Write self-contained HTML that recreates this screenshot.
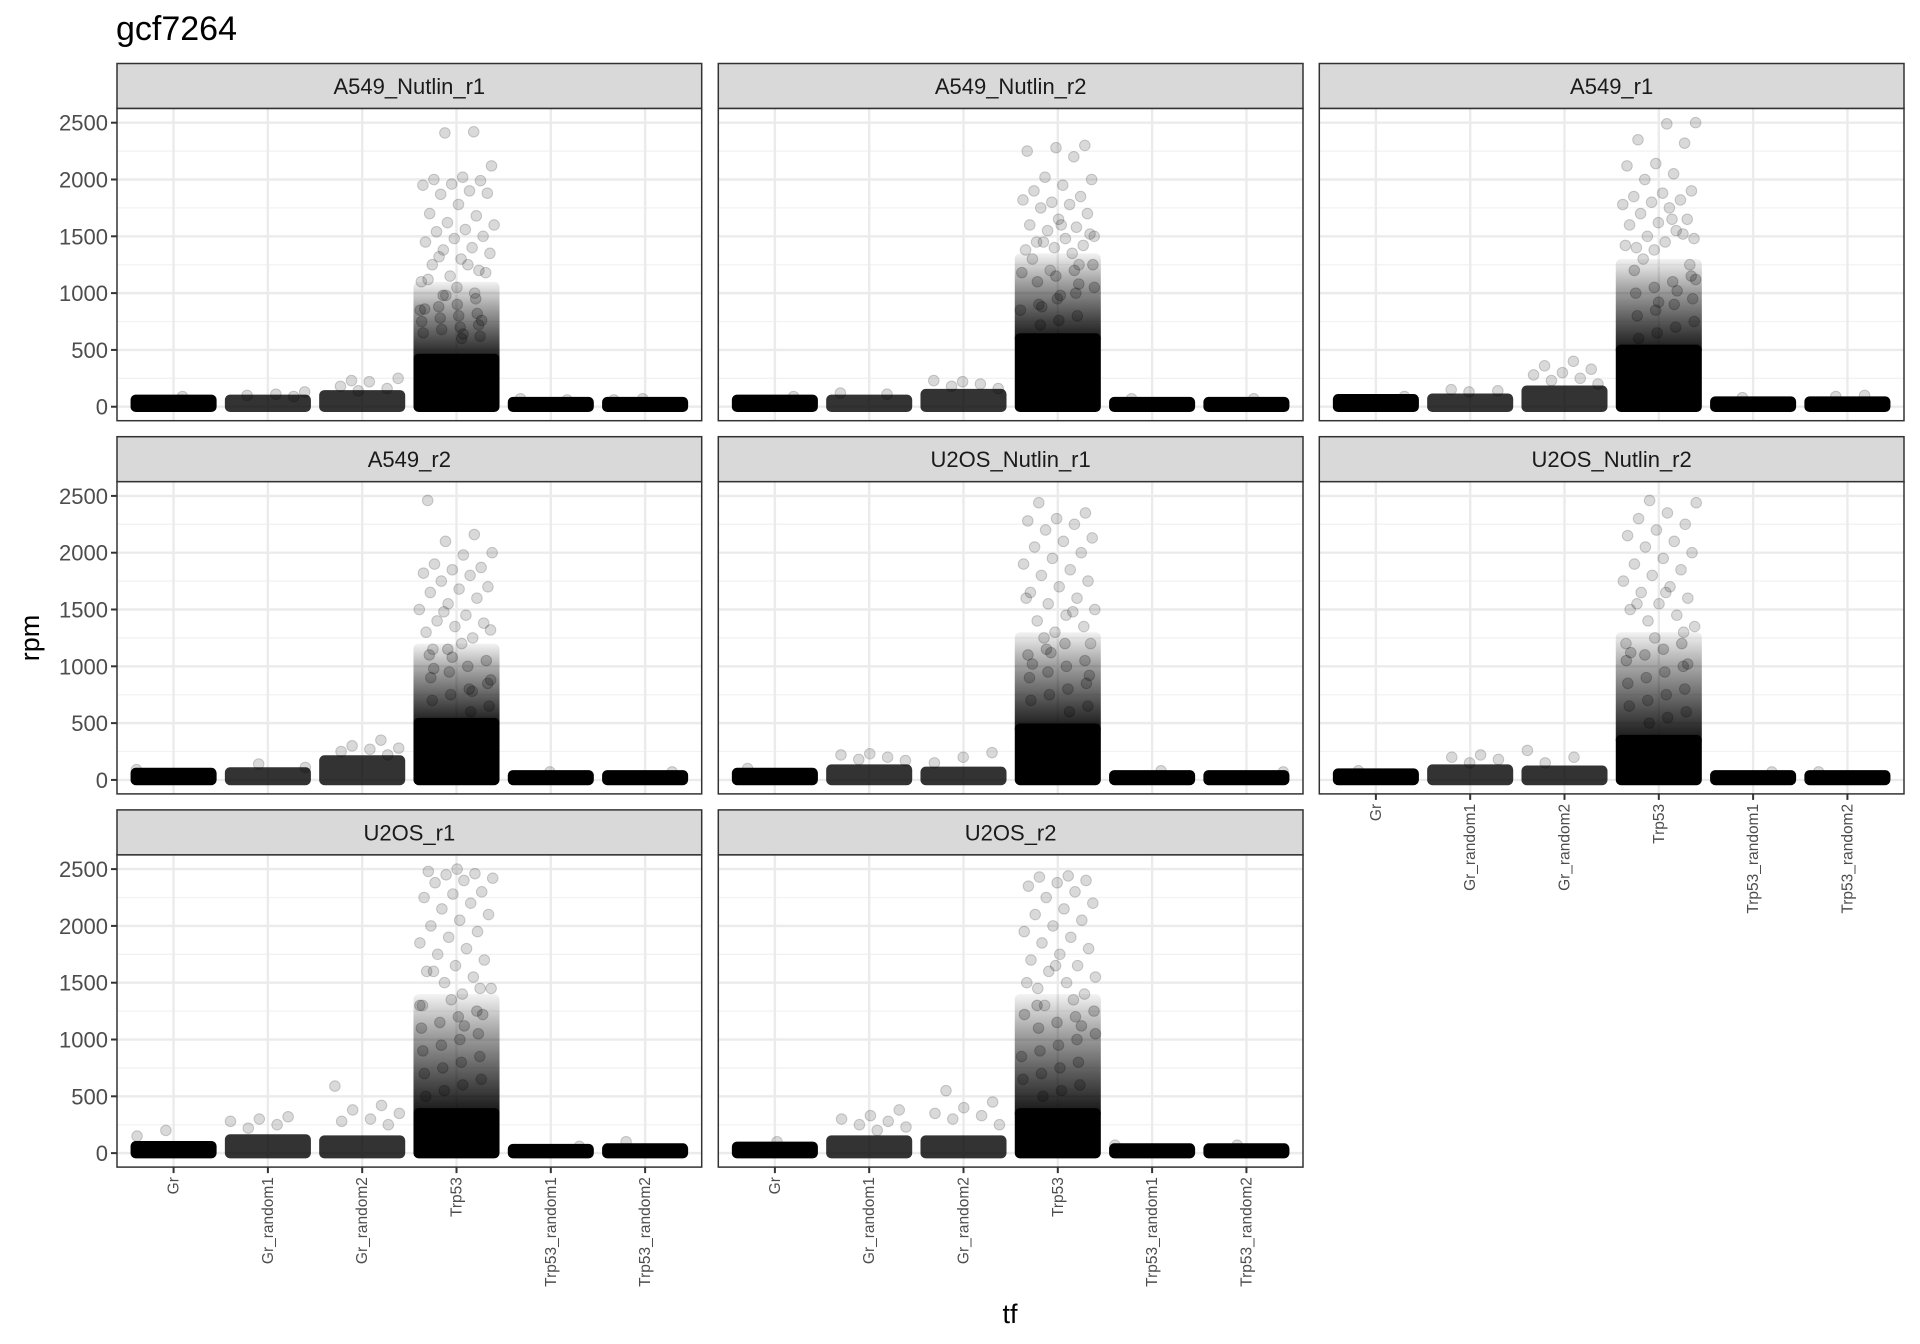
<!DOCTYPE html>
<html><head><meta charset="utf-8"><title>gcf7264</title>
<style>
html,body{margin:0;padding:0;background:#fff;}
svg{display:block;font-family:"Liberation Sans",sans-serif;}
</style></head>
<body>
<svg id="chart" width="1920" height="1344" viewBox="0 0 1920 1344" xmlns="http://www.w3.org/2000/svg">
<text x="116" y="40" font-size="34" fill="#000">gcf7264</text>
<text x="0" y="0" font-size="27" fill="#000" text-anchor="middle" transform="translate(39,638) rotate(-90)">rpm</text>
<text x="1010" y="1323" font-size="27" fill="#000" text-anchor="middle">tf</text>
</svg>
<script>
const categories = ["Gr","Gr_random1","Gr_random2","Trp53","Trp53_random1","Trp53_random2"];
const panels = ["A549_Nutlin_r1","A549_Nutlin_r2","A549_r1","A549_r2","U2OS_Nutlin_r1","U2OS_Nutlin_r2","U2OS_r1","U2OS_r2"];
const yTicks = [0,500,1000,1500,2000,2500];
const solidTop = [
 [60,60,100,420,40,40],
 [60,60,110,600,40,40],
 [65,70,140,500,45,45],
 [60,65,170,500,40,40],
 [60,90,70,450,40,40],
 [55,90,80,350,40,40],
 [60,120,110,350,35,40],
 [55,110,110,350,40,40]
];
const denseTop = [1100,1350,1300,1200,1300,1300,1400,1400];
const gr1Out = [[130,110,100,90],[120,110],[150,140,130],[140,110],[230,220,200,180,170],[220,200,180,150],[320,300,280,250,220],[380,330,300,280,250,230,200]];
const gr2Out = [[230,250,220,180,160,140],[220,230,200,180,160],[400,360,330,300,280,250,230,200],[350,300,280,270,250,220],[240,200,150],[260,200,150],[590,420,380,350,300,280,250],[550,450,400,350,330,300,250]];
const grOut = [[90],[90],[90],[90],[100],[80],[200,150],[100]];
const t1Out = [[70,60],[70],[80],[70],[80],[70],[60],[70]];
const t2Out = [[70,60],[70],[100,90],[70],[70],[70],[100],[70]];
const trpOut = [
 [2420,2410,2120,2020,2000,1990,1960,1950,1900,1870,1880,1780,1700,1680,1620,1600,1560,1540,1500,1480,1450,1400,1380,1350,1300,1250,1200,1150,1100,1250,1320,1180,1050,1120,1000,980],
 [2300,2280,2250,2200,2020,2000,1950,1900,1850,1800,1820,1780,1750,1700,1650,1600,1580,1550,1500,1480,1450,1420,1400,1380,1350,1450,1520,1600,1300,1250,1200],
 [2500,2490,2350,2320,2140,2120,2050,2000,1900,1880,1850,1820,1800,1780,1750,1700,1650,1620,1600,1550,1500,1480,1450,1400,1520,1380,1420,1650,1300,1250],
 [2460,2160,2100,2000,1980,1900,1870,1850,1820,1800,1750,1700,1680,1650,1600,1550,1500,1450,1400,1380,1350,1300,1250,1480,1320,1200,1150],
 [2440,2350,2300,2280,2250,2200,2130,2100,2050,2000,1950,1900,1850,1800,1750,1700,1650,1600,1550,1500,1450,1400,1350,1300,1600,1480,1250,1200],
 [2460,2440,2350,2300,2250,2200,2150,2100,2050,2000,1950,1900,1850,1800,1750,1700,1650,1600,1550,1500,1450,1400,1350,1650,1550,1300,1250,1200],
 [2500,2480,2460,2450,2420,2400,2380,2300,2280,2250,2200,2150,2100,2050,2000,1950,1900,1850,1800,1750,1700,1650,1600,1550,1500,1450,1400,1600,1450,1350,1300],
 [2440,2430,2400,2380,2350,2300,2250,2200,2150,2100,2050,2000,1950,1900,1850,1800,1750,1700,1650,1600,1550,1500,1450,1400,1650,1500,1350,1300]
];
const trpMid = [
 [950,900,880,850,820,800,780,750,720,700,680,650,620,600,980,860,760,640],
 [1250,1200,1150,1100,1050,1000,950,900,850,800,760,720,1180,1080,980,880],
 [1200,1150,1100,1050,1000,950,900,850,800,750,700,650,600,1120,1020,920],
 [1150,1100,1050,1000,950,900,850,800,750,700,650,600,1080,980,880,780],
 [1200,1150,1100,1050,1000,950,900,850,800,750,700,650,600,1120,1020,920],
 [1200,1150,1100,1050,1000,950,900,850,800,750,700,650,600,550,500,1120,1020],
 [1300,1250,1200,1150,1100,1050,1000,950,900,850,800,750,700,650,600,550,500,1220,1120],
 [1300,1250,1200,1150,1100,1050,1000,950,900,850,800,750,700,650,600,550,500,1220,1120]
];

const NS = "http://www.w3.org/2000/svg";
const svg = document.getElementById("chart");
const colX = [117, 718.3, 1319.3];
const PW = 584.7, STRIP = 45, PH = 312.2, ROWP = 373.2, ROW0 = 63.5;
const yMin = -123, yMax = 2625;
function mk(tag, attrs, parent){ const e = document.createElementNS(NS, tag); for (const k in attrs) e.setAttribute(k, attrs[k]); (parent||svg).appendChild(e); return e; }

const defs = mk("defs", {});
const grad = mk("linearGradient", {id:"dg", x1:"0", y1:"1", x2:"0", y2:"0"}, defs);
mk("stop", {offset:"0", "stop-color":"#000", "stop-opacity":"0.95"}, grad);
mk("stop", {offset:"0.3", "stop-color":"#000", "stop-opacity":"0.7"}, grad);
mk("stop", {offset:"0.7", "stop-color":"#000", "stop-opacity":"0.35"}, grad);
mk("stop", {offset:"1", "stop-color":"#000", "stop-opacity":"0.05"}, grad);

panels.forEach((name, p) => {
  const col = p % 3, row = Math.floor(p / 3);
  const x0 = colX[col], top = ROW0 + row * ROWP, py0 = top + STRIP, py1 = py0 + PH;
  const unit = PW / 6.2;
  const xs = i => x0 + (0.6 + i) * unit;
  const ys = v => py1 - (v - yMin) / (yMax - yMin) * PH;
  const g = mk("g", {});
  
  
  const st = mk("rect", {x:x0, y:top, width:PW, height:STRIP, fill:"#d9d9d9", stroke:"#333", "stroke-width":1.5}, g);
  
  
  const stt = mk("text", {x:x0+PW/2, y:top+STRIP/2+8, "font-size":22, fill:"#1a1a1a", "text-anchor":"middle"}, g);
  stt.textContent = name;
  
  
  mk("rect", {x:x0, y:py0, width:PW, height:PH, fill:"#fff"}, g);
  yTicks.forEach((t, k) => {
    if (k < yTicks.length - 1) mk("line", {x1:x0, x2:x0+PW, y1:ys(t+250), y2:ys(t+250), stroke:"#f2f2f2", "stroke-width":1.3}, g);
    mk("line", {x1:x0, x2:x0+PW, y1:ys(t), y2:ys(t), stroke:"#ebebeb", "stroke-width":2.4}, g);
  });
  categories.forEach((c, i) => mk("line", {x1:xs(i), x2:xs(i), y1:py0, y2:py1, stroke:"#ebebeb", "stroke-width":2.4}, g));
  const r = 5.3, half = 0.4 * unit;
  categories.forEach((c, i) => {
    const cg = mk("g", {}, g);
    
    
    const s = solidTop[p][i];
    if (i === 3) {
      const d = denseTop[p];
      mk("rect", {x:xs(i)-half-r, y:ys(d), width:2*half+2*r, height:ys(s)-ys(d)+r, fill:"url(#dg)", rx:r}, cg);
      trpMid[p].forEach((v, k) => {
        const j = (((k + 1) * 0.7548777 + p * 0.21) % 1) - 0.5;
        const pt = mk("circle", {cx:xs(i) + j * 2 * half, cy:ys(v), r:r, fill:"#000", "fill-opacity":0.2, stroke:"#000", "stroke-opacity":0.2, "stroke-width":1}, cg);
        
        
      });
    }
    const op = (i === 1 || i === 2) ? 0.8 : 1;
    mk("rect", {x:xs(i)-half-r, y:ys(s)-r, width:2*half+2*r, height:ys(0)-ys(s)+2*r, fill:"#000", "fill-opacity":op, rx:r}, cg);
    const outs = [grOut, gr1Out, gr2Out, trpOut, t1Out, t2Out][i][p];
    outs.forEach((v, k) => {
      const j = (((k + 1) * 0.6180339 + i * 0.37 + p * 0.13) % 1) - 0.5;
      const pt = mk("circle", {cx:xs(i) + j * 2 * half, cy:ys(v), r:r, fill:"#000", "fill-opacity":0.15, stroke:"#000", "stroke-opacity":0.18, "stroke-width":1}, cg);
      
      
    });
  });
  mk("rect", {x:x0, y:py0, width:PW, height:PH, fill:"none", stroke:"#333", "stroke-width":1.5}, g);
  if (col === 0) {
    yTicks.forEach(t => {
      mk("line", {x1:x0-6, x2:x0, y1:ys(t), y2:ys(t), stroke:"#333", "stroke-width":2}, g);
      const tl = mk("text", {x:x0-9, y:ys(t)+8, "font-size":22, fill:"#4d4d4d", "text-anchor":"end"}, g);
      tl.textContent = t;
      
      
    });
  }
  if (p >= 5) {
    categories.forEach((c, i) => {
      mk("line", {x1:xs(i), x2:xs(i), y1:py1, y2:py1+6, stroke:"#333", "stroke-width":2}, g);
      const tl = mk("text", {x:0, y:0, "font-size":15.5, fill:"#4d4d4d", "text-anchor":"end", transform:`translate(${xs(i)+5},${py1+10}) rotate(-90)`}, g);
      tl.textContent = c;
      
      
    });
  }
});
</script>
</body></html>
